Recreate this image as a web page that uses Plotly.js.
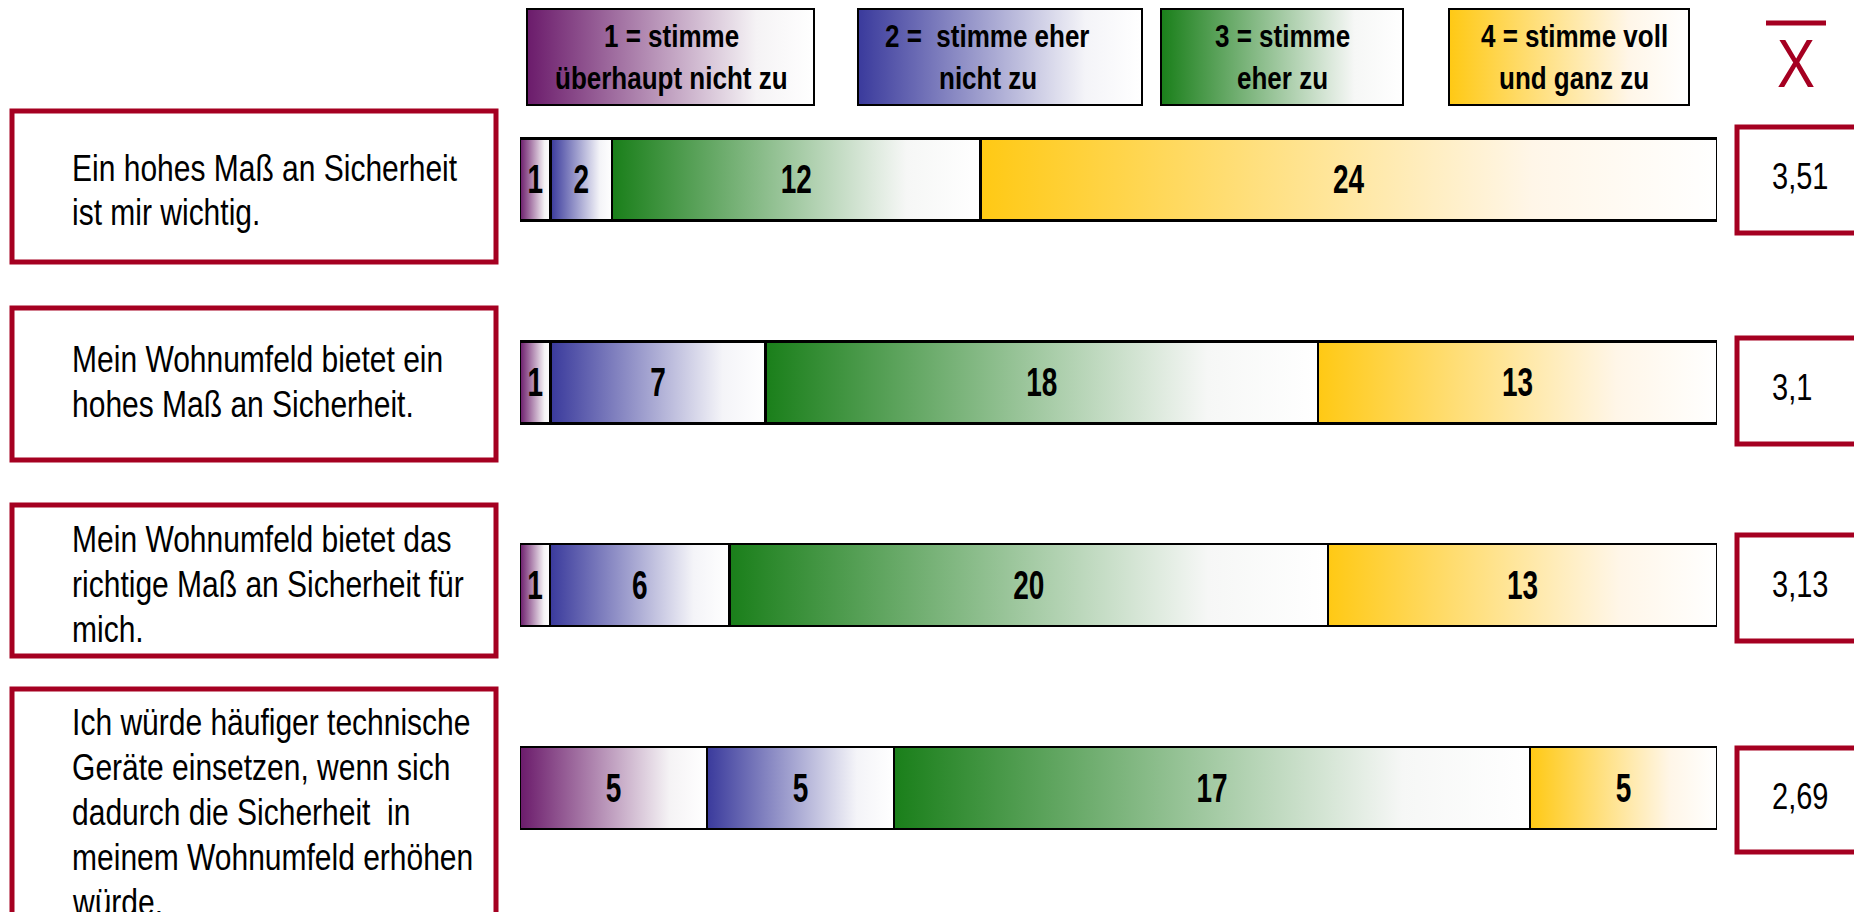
<!DOCTYPE html>
<html>
<head>
<meta charset="utf-8">
<script src="https://cdn.plot.ly/plotly-3.0.1.min.js"></script>
<style>
  html, body { margin: 0; padding: 0; background: #ffffff; }
  #chart { width: 1854px; height: 912px; }
</style>
</head>
<body>
<div id="chart"></div>
<script>
// ---------------- data ----------------
const categories = [
  'Ein hohes Maß an Sicherheit<br>ist mir wichtig.',
  'Mein Wohnumfeld bietet ein<br>hohes Maß an Sicherheit.',
  'Mein Wohnumfeld bietet das<br>richtige Maß an Sicherheit für<br>mich.',
  'Ich würde häufiger technische<br>Geräte einsetzen, wenn sich<br>dadurch die Sicherheit&nbsp; in<br>meinem Wohnumfeld erhöhen<br>würde.'
];
const stimme1 = [1, 1, 1, 5];
const stimme2 = [2, 7, 6, 5];
const stimme3 = [12, 18, 20, 17];
const stimme4 = [24, 13, 13, 5];
const means = ['3,51', '3,1', '3,13', '2,69'];
const legendLabels = [
  '1 = stimme<br>überhaupt nicht zu',
  '2 =&nbsp; stimme eher<br>nicht zu',
  '3 = stimme<br>eher zu',
  '4 = stimme voll<br>und ganz zu'
];
const meanSymbol = 'X';

// ---------------- styling / layout geometry ----------------
const W = 1854, H = 912;
const px = x => x / W;
const py = y => 1 - y / H;
const RED = '#A50021';
const FONT = 'Liberation Sans, Arial, sans-serif';
const series = [stimme1, stimme2, stimme3, stimme4];
const baseColors = ['#6B1B6B', '#3B3B9B', '#1A7F1A', '#FFC914'];
const gradStops = [
  [[0, '#6B1B6B'], [0.8, '#f5f3f5'], [1, '#ffffff']],
  [[0, '#3A3A9C'], [0.8, '#f4f4f8'], [1, '#ffffff']],
  [[0, '#1A7F1A'], [0.8, '#f6f7f6'], [1, '#ffffff']],
  [[0, '#FFC914'], [0.75, '#FFF6E8'], [1, '#ffffff']]
];
// pixel geometry of decorative boxes
const labelBoxes = [
  {y0: 111, y1: 262, first: 167},
  {y0: 308, y1: 460, first: 358},
  {y0: 505, y1: 656, first: 538},
  {y0: 689, y1: 940, first: 721}
];
const labelX0 = 12, labelX1 = 496, labelTextX = 70, labelLineGap = 45;
const meanBoxes = [
  {y0: 127, y1: 233},
  {y0: 338, y1: 444},
  {y0: 535, y1: 641},
  {y0: 748, y1: 852}
];
const meanX0 = 1737, meanX1 = 1900, meanTextX = 1770;
const legendBoxes = [
  {x0: 527, x1: 814, tx: 671},
  {x0: 858, x1: 1142, tx: 988},
  {x0: 1161, x1: 1403, tx: 1282},
  {x0: 1449, x1: 1689, tx: 1574}
];
const legendY0 = 9, legendY1 = 105, legendLineY = [36, 78];

// vertical stretch factors (reference glyphs are tall / condensed)
const STRETCH_LABEL = 1.25, STRETCH_LEGEND = 1.22, STRETCH_MEAN = 1.3, STRETCH_SYMBOL = 1.2, STRETCH_BAR = 1.45;

// ---------------- traces ----------------
const data = series.map((vals, k) => ({
  type: 'bar',
  orientation: 'h',
  y: categories,
  x: vals,
  text: vals.map(String),
  texttemplate: '%{text}',
  textposition: 'inside',
  insidetextanchor: 'middle',
  textangle: 0,
  constraintext: 'none',
  textfont: {family: FONT, size: 28, color: '#000000', weight: 'bold'},
  marker: {color: baseColors[k], line: {color: '#000000', width: 2.5}},
  hoverinfo: 'skip'
}));

// ---------------- shapes & annotations ----------------
const shapes = [];
const annotations = [];
const annStretch = [];

// legend boxes (first shapes -> gradient injected)
legendBoxes.forEach((b, i) => {
  shapes.push({type: 'rect', xref: 'paper', yref: 'paper',
    x0: px(b.x0), x1: px(b.x1), y0: py(legendY1), y1: py(legendY0),
    fillcolor: baseColors[i], line: {color: '#000000', width: 2}});
  legendLabels[i].split('<br>').forEach((t, j) => {
    annotations.push({xref: 'paper', yref: 'paper', x: px(b.tx), y: py(legendLineY[j]),
      xanchor: 'center', yanchor: 'middle', showarrow: false, text: '<b>' + t + '</b>',
      font: {family: FONT, size: 26, color: '#000000'}});
    annStretch.push(STRETCH_LEGEND);
  });
});

// left statement boxes
labelBoxes.forEach((b, i) => {
  shapes.push({type: 'rect', xref: 'paper', yref: 'paper',
    x0: px(labelX0), x1: px(labelX1), y0: py(b.y1), y1: py(b.y0),
    fillcolor: '#ffffff', line: {color: RED, width: 5}});
  categories[i].split('<br>').forEach((t, j) => {
    annotations.push({xref: 'paper', yref: 'paper', x: px(labelTextX), y: py(b.first + j * labelLineGap),
      xanchor: 'left', yanchor: 'middle', showarrow: false, text: t,
      font: {family: FONT, size: 30, color: '#000000'}});
    annStretch.push(STRETCH_LABEL);
  });
});

// mean boxes
meanBoxes.forEach((b, i) => {
  shapes.push({type: 'rect', xref: 'paper', yref: 'paper',
    x0: px(meanX0), x1: px(meanX1), y0: py(b.y1), y1: py(b.y0),
    fillcolor: '#ffffff', line: {color: RED, width: 5}});
  annotations.push({xref: 'paper', yref: 'paper', x: px(meanTextX), y: py((b.y0 + b.y1) / 2 - 4),
    xanchor: 'left', yanchor: 'middle', showarrow: false, text: means[i],
    font: {family: FONT, size: 29, color: '#000000'}});
  annStretch.push(STRETCH_MEAN);
});

// mean symbol (x-bar)
shapes.push({type: 'line', xref: 'paper', yref: 'paper',
  x0: px(1766), x1: px(1826), y0: py(23), y1: py(23), line: {color: RED, width: 5}});
annotations.push({xref: 'paper', yref: 'paper', x: px(1796), y: py(63),
  xanchor: 'center', yanchor: 'middle', showarrow: false, text: meanSymbol,
  font: {family: FONT, size: 57, color: RED}});
annStretch.push(STRETCH_SYMBOL);

// ---------------- layout ----------------
const barTop = 179.5, barStep = 202.8;
const layout = {
  width: W, height: H,
  margin: {l: 0, r: 0, t: 0, b: 0, pad: 0},
  paper_bgcolor: '#ffffff',
  plot_bgcolor: 'rgba(0,0,0,0)',
  barmode: 'stack',
  barnorm: 'percent',
  bargap: 0.596,
  showlegend: false,
  font: {family: FONT},
  xaxis: {domain: [px(520), px(1717)], range: [0, 100], visible: false, fixedrange: true},
  yaxis: {domain: [py(barTop + 3.5 * barStep), py(barTop - 0.5 * barStep)], type: 'category',
          range: [3.5, -0.5], visible: false, fixedrange: true},
  shapes: shapes,
  annotations: annotations
};

function stretchY(el, s) {
  if (!el || s === 1) return;
  const bb = el.getBBox();
  const cx = bb.x + bb.width / 2, cy = bb.y + bb.height / 2;
  const t = el.getAttribute('transform') || '';
  el.setAttribute('transform', (t + ' translate(' + cx + ',' + cy + ') scale(1,' + s + ') translate(' + (-cx) + ',' + (-cy) + ')').trim());
}

const gd = document.getElementById('chart');
Plotly.newPlot(gd, data, layout, {staticPlot: true, displayModeBar: false}).then(() => {
  const NS = 'http://www.w3.org/2000/svg';
  const svg = gd.querySelector('svg.main-svg');
  let defs = svg.querySelector('defs');
  if (!defs) { defs = document.createElementNS(NS, 'defs'); svg.insertBefore(defs, svg.firstChild); }
  gradStops.forEach((stops, i) => {
    const lg = document.createElementNS(NS, 'linearGradient');
    lg.setAttribute('id', 'lvgrad' + i);
    lg.setAttribute('x1', '0'); lg.setAttribute('y1', '0');
    lg.setAttribute('x2', '1'); lg.setAttribute('y2', '0');
    stops.forEach(([o, c]) => {
      const s = document.createElementNS(NS, 'stop');
      s.setAttribute('offset', o);
      s.setAttribute('stop-color', c);
      lg.appendChild(s);
    });
    defs.appendChild(lg);
  });
  gd.querySelectorAll('.barlayer .trace').forEach((tr, i) => {
    tr.querySelectorAll('.point path').forEach(p => { p.style.fill = 'url(#lvgrad' + i + ')'; });
    tr.querySelectorAll('.point text').forEach(t => stretchY(t, STRETCH_BAR));
  });
  const shapePaths = gd.querySelectorAll('.layer-above .shapelayer path');
  shapePaths.forEach((p, idx) => {
    const di = p.getAttribute('data-index');
    const k = di !== null ? parseInt(di, 10) : idx;
    if (k < legendBoxes.length) p.style.fill = 'url(#lvgrad' + k + ')';
  });
  gd.querySelectorAll('g.annotation').forEach((g, idx) => {
    const di = g.getAttribute('data-index');
    const k = di !== null ? parseInt(di, 10) : idx;
    const txt = g.querySelector('text');
    stretchY(txt, annStretch[k] || 1);
  });
});
</script>
</body>
</html>
